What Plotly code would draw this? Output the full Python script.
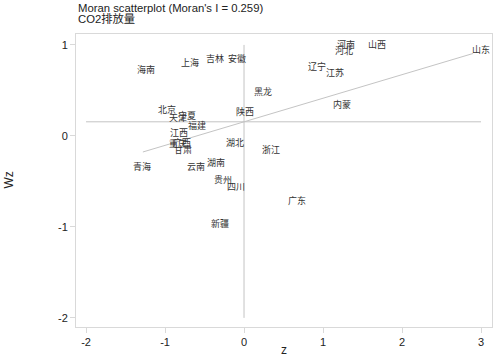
import plotly.graph_objects as go

provinces = ["海南", "上海", "吉林", "安徽", "河南", "河北", "山西", "辽宁", "江苏", "山东",
             "黑龙", "内蒙", "北京", "天津", "宁夏", "福建", "陕西", "江西", "重庆", "广西",
             "甘肃", "湖北", "浙江", "青海", "云南", "湖南", "贵州", "四川", "广东", "新疆"]
z = [-1.24, -0.684, -0.367, -0.089, 1.291, 1.266, 1.684, 0.924, 1.152, 3.0,
     0.241, 1.241, -0.975, -0.835, -0.722, -0.595, 0.013, -0.823, -0.835, -0.785,
     -0.772, -0.114, 0.342, -1.291, -0.608, -0.354, -0.266, -0.101, 0.671, -0.304]
wz = [0.714, 0.791, 0.835, 0.835, 0.989, 0.923, 0.989, 0.747, 0.681, 0.934,
      0.473, 0.330, 0.275, 0.187, 0.209, 0.099, 0.253, 0.022, -0.099, -0.088,
      -0.165, -0.088, -0.165, -0.352, -0.352, -0.308, -0.495, -0.571, -0.725, -0.978]

moran_i = 0.259
mean_wz = 0.155
fit_x = [-1.28, 2.9]
fit_y = [mean_wz + moran_i * v for v in fit_x]

ref_h_x = [-2, 3]
ref_v_y = [-2, 1]

x_ticks = [-2, -1, 0, 1, 2, 3]
y_ticks = [-2, -1, 0, 1]

line_col = "#c4c4c4"
txt_col = "#222222"
fig = go.Figure()
fig.add_trace(go.Scatter(x=ref_h_x, y=[mean_wz, mean_wz], mode="lines",
                         line=dict(color=line_col, width=1), hoverinfo="skip", showlegend=False))
fig.add_trace(go.Scatter(x=[0, 0], y=ref_v_y, mode="lines",
                         line=dict(color=line_col, width=1), hoverinfo="skip", showlegend=False))
fig.add_trace(go.Scatter(x=fit_x, y=fit_y, mode="lines",
                         line=dict(color=line_col, width=1), hoverinfo="skip", showlegend=False))
fig.add_trace(go.Scatter(x=z, y=wz, mode="text", text=provinces, textposition="middle center",
                         textfont=dict(family="Noto Sans CJK SC", size=9, color="#333333"),
                         showlegend=False, cliponaxis=False))

axis_common = dict(showgrid=False, zeroline=False, showline=True, mirror=True, automargin=False,
                   linecolor="#d9d9d9", linewidth=1, ticks="outside", ticklen=5,
                   tickcolor="#d9d9d9", tickfont=dict(family="Liberation Sans", size=11, color=txt_col))
fig.update_xaxes(range=[-2.127, 3.139], tickvals=x_ticks, ticktext=[str(v) for v in x_ticks],
                 **axis_common)
fig.update_yaxes(range=[-2.1, 1.12], tickvals=y_ticks, ticktext=[str(v) for v in y_ticks],
                 **axis_common)

fig.add_annotation(text="z", xref="paper", yref="paper", x=0.5, y=0, xanchor="center",
                   yanchor="middle", yshift=-23, showarrow=False,
                   font=dict(family="Liberation Sans", size=12, color=txt_col))
fig.add_annotation(text="Wz", xref="paper", yref="paper", x=0, y=0.5, xanchor="center",
                   yanchor="middle", xshift=-68, textangle=-90, showarrow=False,
                   font=dict(family="Liberation Sans", size=12, color=txt_col))
fig.add_annotation(text="Moran scatterplot (Moran's I = 0.259)", xref="paper", yref="paper",
                   x=0, y=1, xanchor="left", yanchor="middle", yshift=26, showarrow=False,
                   font=dict(family="Liberation Sans", size=11.3, color=txt_col))
fig.add_annotation(text="CO2排放量", xref="paper", yref="paper",
                   x=0, y=1, xanchor="left", yanchor="middle", yshift=16, showarrow=False,
                   font=dict(family="Liberation Sans, Noto Sans CJK SC", size=11.3, color=txt_col))

fig.update_layout(width=502, height=359, margin=dict(l=76, r=10, t=34, b=32),
                  paper_bgcolor="white", plot_bgcolor="white", hovermode=False)
fig.write_html("out.html", config={"displayModeBar": False},
               post_script="document.body.style.margin='0';")
